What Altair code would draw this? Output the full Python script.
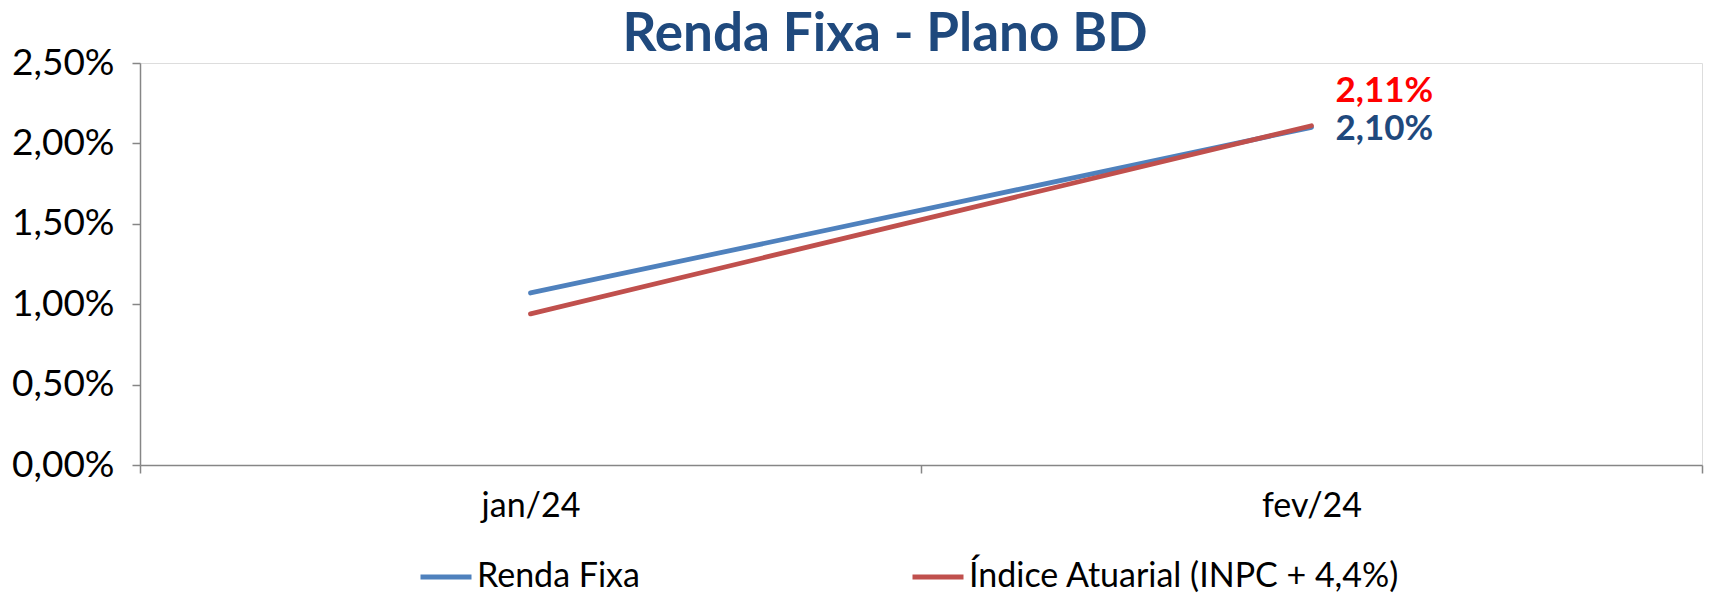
import altair as alt
import pandas as pd

months = ["jan/24", "fev/24"]
series = ["Renda Fixa", "Índice Atuarial (INPC + 4,4%)"]
renda_fixa = [1.07, 2.10]
indice_atuarial = [0.94, 2.11]
line_colors = ["#4F81BD", "#C0504D"]
label_colors = ["#1F497D", "#FF0000"]
y_ticks = [0, 0.5, 1.0, 1.5, 2.0, 2.5]

rows = []
for s, vals in [(series[0], renda_fixa), (series[1], indice_atuarial)]:
    for m, v in zip(months, vals):
        rows.append({"mes": m, "serie": s, "valor": v})
df = pd.DataFrame(rows)

FONT = "Lato"

x = alt.X("mes:N", sort=months, title=None,
          scale=alt.Scale(paddingInner=0, paddingOuter=0),
          axis=alt.Axis(labelAngle=0, labelFontSize=34, labelFont=FONT, labelColor="#000000",
                        domainColor="#868686", tickColor="#868686", tickSize=8, tickWidth=1.5,
                        domainWidth=1.5, tickBand="extent", labelPadding=16, grid=False))
y = alt.Y("valor:Q", title=None,
          scale=alt.Scale(domain=[0, 2.5], nice=False, zero=True),
          axis=alt.Axis(values=y_ticks, labelExpr="replace(format(datum.value, '.2f'), '.', ',') + '%'",
                        labelFontSize=37, labelFont=FONT, labelColor="#000000",
                        domainColor="#868686", tickColor="#868686", tickSize=8, tickWidth=1.5,
                        domainWidth=1.5, labelPadding=18, grid=False))

color = alt.Color("serie:N", sort=series,
                  scale=alt.Scale(domain=series, range=line_colors),
                  legend=alt.Legend(title=None, orient="none", direction="horizontal",
                                    legendX=278, legendY=486,
                                    symbolType="stroke", symbolSize=2601, symbolStrokeWidth=5,
                                    labelFontSize=34, labelFont=FONT, labelColor="#000000",
                                    labelLimit=800, labelOffset=3, columnPadding=262))

lines = alt.Chart(df).mark_line(strokeWidth=4.8, strokeCap="round").encode(
    x=x, y=y, color=color)


def end_label(idx, dy):
    return alt.Chart(df).transform_filter(
        (alt.datum.mes == months[-1]) & (alt.datum.serie == series[idx])
    ).transform_calculate(
        txt="replace(format(datum.valor, '.2f'), '.', ',') + '%'"
    ).mark_text(align="left", baseline="middle", fontSize=35, font=FONT, fontWeight="bold",
                dx=24, dy=dy, color=label_colors[idx]).encode(
        x=alt.X("mes:N", sort=months), y=alt.Y("valor:Q"), text="txt:N")


chart = alt.layer(lines, end_label(1, -35), end_label(0, 2)).properties(
    width=1562, height=402,
    title=alt.TitleParams("Renda Fixa - Plano BD", font=FONT, fontSize=53, fontWeight="bold",
                          color="#1F497D", anchor="middle", dx=-36, offset=6, dy=24),
    autosize=alt.AutoSizeParams(type="none"),
    padding={"left": 132, "top": 55, "right": 3, "bottom": 135},
).configure_view(stroke=None).configure(background="#FFFFFF")

chart.save("out.html", embed_options={"renderer": "svg", "actions": False})
